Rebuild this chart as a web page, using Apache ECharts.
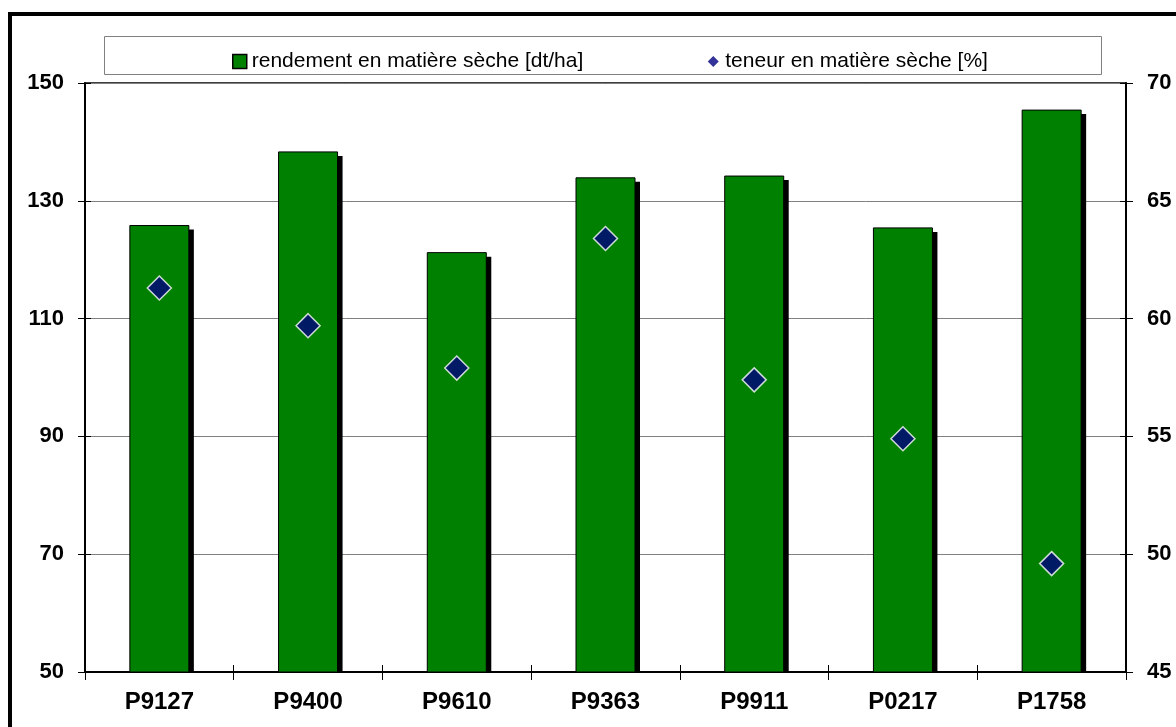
<!DOCTYPE html>
<html><head><meta charset="utf-8">
<script src="https://cdn.jsdelivr.net/npm/echarts@6/dist/echarts.min.js"></script>
<style>html,body{margin:0;padding:0;background:#fff}#c{width:1176px;height:727px}</style>
</head><body><div id="c"></div>
<script>
const categories = ['P9127','P9400','P9610','P9363','P9911','P0217','P1758'];
const yieldValues = [125.8, 138.3, 121.2, 133.9, 134.2, 125.4, 145.4];
const dmContent = [61.3, 59.7, 57.9, 63.4, 57.4, 54.9, 49.6];
const seriesNames = ['rendement en matière sèche [dt/ha]', 'teneur en matière sèche [%]'];
const leftTicks = {min: 50, max: 150, interval: 20};
const rightTicks = {min: 45, max: 70, interval: 5};

const chart = echarts.init(document.getElementById('c'));
const font = 'Liberation Sans, Arial, sans-serif';
const BAR_W = 59, SH_X = 5, SH_Y = 4;

function renderBar(params, api) {
  const top = api.coord([api.value(0), api.value(1)]);
  const base = api.coord([api.value(0), leftTicks.min]);
  const x0 = top[0] - BAR_W / 2;
  const h = base[1] - top[1];
  return {
    type: 'group',
    children: [
      {type: 'rect', shape: {x: x0 + SH_X, y: top[1] + SH_Y, width: BAR_W, height: h - SH_Y},
       style: {fill: '#000'}},
      {type: 'rect', shape: {x: x0, y: top[1], width: BAR_W, height: h},
       style: {fill: '#008000', stroke: '#000', lineWidth: 1}}
    ]
  };
}

const innerTickAxis = (t, pos) => ({
  type:'value', min:t.min, max:t.max, interval:t.interval, position:pos,
  axisLine:{show:false}, axisTick:{show:true, inside:true, length:6, lineStyle:{color:'#000'}},
  axisLabel:{show:false}, splitLine:{show:false}
});

chart.setOption({
  animation: false,
  backgroundColor: '#fff',
  textStyle: {fontFamily: font},
  graphic: [
    {type:'rect', shape:{x:10,y:14,width:1180,height:730}, style:{fill:'none', stroke:'#000', lineWidth:4}, z:0},
    {type:'rect', shape:{x:104.5,y:36.5,width:997,height:38}, style:{fill:'#fff', stroke:'#808080', lineWidth:1}, z:1}
  ],
  legend: {
    top: 46, left: 227, itemGap: 123, itemWidth: 14, itemHeight: 14,
    textStyle: {fontSize: 21, fontFamily: font, color: '#000'},
    data: [
      {name: seriesNames[0], icon: 'rect', itemStyle:{color:'#008000', borderColor:'#000', borderWidth:1.5}},
      {name: seriesNames[1], icon: 'path://M0,0 M14,14 M7,1.5 L12.5,7 L7,12.5 L1.5,7 Z', itemStyle:{color:'#000080', borderWidth:0}}
    ],
    z: 10
  },
  grid: {left: 85, right: 50, top: 83, bottom: 55, show: true, borderColor:'#000', borderWidth:1.5},
  xAxis: [
    {type:'category', data: categories, position:'bottom',
     axisLine:{lineStyle:{color:'#000', width:2}},
     axisTick:{show:true, length:8, lineStyle:{color:'#000'}},
     axisLabel:{fontSize:24, fontWeight:'bold', color:'#000', margin:18, fontFamily: font}},
    {type:'category', data: categories, position:'bottom',
     axisLine:{show:false}, axisTick:{show:true, inside:true, length:7, lineStyle:{color:'#000'}},
     axisLabel:{show:false}}
  ],
  yAxis: [
    {type:'value', min:leftTicks.min, max:leftTicks.max, interval:leftTicks.interval, position:'left',
     axisLine:{show:true, lineStyle:{color:'#000', width:2}},
     axisTick:{show:true, length:7, lineStyle:{color:'#000'}},
     splitLine:{show:true, lineStyle:{color:'#808080', width:1}},
     axisLabel:{fontSize:22, fontWeight:'bold', color:'#000', margin:21, fontFamily: font}},
    {type:'value', min:rightTicks.min, max:rightTicks.max, interval:rightTicks.interval, position:'right',
     axisLine:{show:true, lineStyle:{color:'#000', width:2}},
     axisTick:{show:true, length:7, lineStyle:{color:'#000'}},
     splitLine:{show:false},
     axisLabel:{fontSize:22, fontWeight:'bold', color:'#000', margin:21, fontFamily: font}},
    innerTickAxis(leftTicks, 'left'),
    innerTickAxis(rightTicks, 'right')
  ],
  series: [
    {name: seriesNames[0], type:'custom', renderItem: renderBar, xAxisIndex:0, yAxisIndex:0,
     encode: {x: 0, y: 1},
     data: yieldValues.map((v, i) => [categories[i], v]),
     itemStyle:{color:'#008000'}, z:2},
    {name: seriesNames[1], type:'scatter', data: dmContent, xAxisIndex:0, yAxisIndex:1, symbol:'diamond', symbolSize:[24,24],
     itemStyle:{color:'#000080', borderColor:'#fff', borderWidth:1.5}, z:5}
  ]
});
</script></body></html>
